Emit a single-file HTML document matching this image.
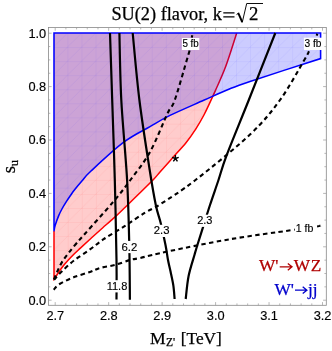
<!DOCTYPE html><html><head><meta charset="utf-8"><style>html,body{margin:0;padding:0;background:#fff}svg{display:block;will-change:transform}</style></head><body><svg width="332" height="351" viewBox="0 0 332 351">
<defs><pattern id="meshr" width="14.05" height="14.05" patternUnits="userSpaceOnUse" x="53.7" y="11.3"><path d="M0,0.3H14.05M0.3,0V14.05M0,14.05L14.05,0" stroke="#f00" stroke-opacity="0.07" stroke-width="0.7" fill="none"/></pattern><pattern id="meshb" width="14.05" height="14.05" patternUnits="userSpaceOnUse" x="53.4" y="33.1"><path d="M0,0.3H14.05M0.3,0V14.05M0,14.05L14.05,0" stroke="#00f" stroke-opacity="0.07" stroke-width="0.7" fill="none"/></pattern>
<mask id="mro" maskUnits="userSpaceOnUse" x="0" y="0" width="332" height="351"><path d="M54.00,279.00 C54.53,278.25 55.87,276.42 57.20,274.50 C58.53,272.58 60.18,269.87 62.00,267.50 C63.82,265.13 66.08,262.55 68.10,260.30 C70.12,258.05 72.10,255.98 74.10,254.00 C76.10,252.02 77.58,250.73 80.10,248.40 C82.62,246.07 85.88,243.03 89.20,240.00 C92.52,236.97 95.68,234.05 100.00,230.20 C104.32,226.35 110.93,220.68 115.10,216.90 C119.27,213.12 121.48,210.90 125.00,207.50 C128.52,204.10 131.53,201.08 136.20,196.50 C140.87,191.92 149.03,184.08 153.00,180.00 C156.97,175.92 156.80,175.62 160.00,172.00 C163.20,168.38 167.83,163.22 172.20,158.30 C176.57,153.38 182.37,147.23 186.20,142.50 C190.03,137.77 192.20,134.57 195.20,129.90 C198.20,125.23 200.70,121.35 204.20,114.50 C207.70,107.65 212.83,96.25 216.20,88.80 C219.57,81.35 221.98,75.98 224.40,69.80 C226.82,63.62 228.65,57.83 230.70,51.70 C232.75,45.57 235.70,36.12 236.70,33.00 L236.7,33 L54,33 Z" fill="#fff"/><path d="M54.00,231.30 C54.18,230.35 54.32,228.22 55.10,225.60 C55.88,222.98 57.52,218.45 58.70,215.60 C59.88,212.75 60.90,210.87 62.20,208.50 C63.50,206.13 65.07,203.65 66.50,201.40 C67.93,199.15 69.48,196.90 70.80,195.00 C72.12,193.10 72.52,192.37 74.40,190.00 C76.28,187.63 79.33,183.97 82.10,180.80 C84.87,177.63 84.07,177.43 91.00,171.00 C97.93,164.57 113.87,149.60 123.70,142.20 C133.53,134.80 142.28,131.07 150.00,126.60 C157.72,122.13 161.05,119.78 170.00,115.40 C178.95,111.02 194.20,104.53 203.70,100.30 C213.20,96.07 219.28,93.15 227.00,90.00 C234.72,86.85 234.40,86.63 250.00,81.40 C265.60,76.17 308.83,62.40 320.60,58.60 L320.6,33 L54,33 Z" fill="#000"/></mask></defs>
<rect width="332" height="351" fill="#fff"/>
<path d="M54.00,279.00 C54.53,278.25 55.87,276.42 57.20,274.50 C58.53,272.58 60.18,269.87 62.00,267.50 C63.82,265.13 66.08,262.55 68.10,260.30 C70.12,258.05 72.10,255.98 74.10,254.00 C76.10,252.02 77.58,250.73 80.10,248.40 C82.62,246.07 85.88,243.03 89.20,240.00 C92.52,236.97 95.68,234.05 100.00,230.20 C104.32,226.35 110.93,220.68 115.10,216.90 C119.27,213.12 121.48,210.90 125.00,207.50 C128.52,204.10 131.53,201.08 136.20,196.50 C140.87,191.92 149.03,184.08 153.00,180.00 C156.97,175.92 156.80,175.62 160.00,172.00 C163.20,168.38 167.83,163.22 172.20,158.30 C176.57,153.38 182.37,147.23 186.20,142.50 C190.03,137.77 192.20,134.57 195.20,129.90 C198.20,125.23 200.70,121.35 204.20,114.50 C207.70,107.65 212.83,96.25 216.20,88.80 C219.57,81.35 221.98,75.98 224.40,69.80 C226.82,63.62 228.65,57.83 230.70,51.70 C232.75,45.57 235.70,36.12 236.70,33.00 L236.7,33 L54,33 Z" fill="#ff0000" fill-opacity="0.2"/>
<path d="M54.00,279.00 C54.53,278.25 55.87,276.42 57.20,274.50 C58.53,272.58 60.18,269.87 62.00,267.50 C63.82,265.13 66.08,262.55 68.10,260.30 C70.12,258.05 72.10,255.98 74.10,254.00 C76.10,252.02 77.58,250.73 80.10,248.40 C82.62,246.07 85.88,243.03 89.20,240.00 C92.52,236.97 95.68,234.05 100.00,230.20 C104.32,226.35 110.93,220.68 115.10,216.90 C119.27,213.12 121.48,210.90 125.00,207.50 C128.52,204.10 131.53,201.08 136.20,196.50 C140.87,191.92 149.03,184.08 153.00,180.00 C156.97,175.92 156.80,175.62 160.00,172.00 C163.20,168.38 167.83,163.22 172.20,158.30 C176.57,153.38 182.37,147.23 186.20,142.50 C190.03,137.77 192.20,134.57 195.20,129.90 C198.20,125.23 200.70,121.35 204.20,114.50 C207.70,107.65 212.83,96.25 216.20,88.80 C219.57,81.35 221.98,75.98 224.40,69.80 C226.82,63.62 228.65,57.83 230.70,51.70 C232.75,45.57 235.70,36.12 236.70,33.00 L236.7,33 L54,33 Z" fill="url(#meshr)" mask="url(#mro)"/>
<path d="M54,231 L54.00,279.00 C54.53,278.25 55.87,276.42 57.20,274.50 C58.53,272.58 60.18,269.87 62.00,267.50 C63.82,265.13 66.08,262.55 68.10,260.30 C70.12,258.05 72.10,255.98 74.10,254.00 C76.10,252.02 77.58,250.73 80.10,248.40 C82.62,246.07 85.88,243.03 89.20,240.00 C92.52,236.97 95.68,234.05 100.00,230.20 C104.32,226.35 110.93,220.68 115.10,216.90 C119.27,213.12 121.48,210.90 125.00,207.50 C128.52,204.10 131.53,201.08 136.20,196.50 C140.87,191.92 149.03,184.08 153.00,180.00 C156.97,175.92 156.80,175.62 160.00,172.00 C163.20,168.38 167.83,163.22 172.20,158.30 C176.57,153.38 182.37,147.23 186.20,142.50 C190.03,137.77 192.20,134.57 195.20,129.90 C198.20,125.23 200.70,121.35 204.20,114.50 C207.70,107.65 212.83,96.25 216.20,88.80 C219.57,81.35 221.98,75.98 224.40,69.80 C226.82,63.62 228.65,57.83 230.70,51.70 C232.75,45.57 235.70,36.12 236.70,33.00" fill="none" stroke="#f00" stroke-width="1.5" stroke-linejoin="miter"/>
<path d="M54.00,231.30 C54.18,230.35 54.32,228.22 55.10,225.60 C55.88,222.98 57.52,218.45 58.70,215.60 C59.88,212.75 60.90,210.87 62.20,208.50 C63.50,206.13 65.07,203.65 66.50,201.40 C67.93,199.15 69.48,196.90 70.80,195.00 C72.12,193.10 72.52,192.37 74.40,190.00 C76.28,187.63 79.33,183.97 82.10,180.80 C84.87,177.63 84.07,177.43 91.00,171.00 C97.93,164.57 113.87,149.60 123.70,142.20 C133.53,134.80 142.28,131.07 150.00,126.60 C157.72,122.13 161.05,119.78 170.00,115.40 C178.95,111.02 194.20,104.53 203.70,100.30 C213.20,96.07 219.28,93.15 227.00,90.00 C234.72,86.85 234.40,86.63 250.00,81.40 C265.60,76.17 308.83,62.40 320.60,58.60 L320.6,33 L54,33 Z" fill="#0000ff" fill-opacity="0.2"/>
<path d="M54.00,231.30 C54.18,230.35 54.32,228.22 55.10,225.60 C55.88,222.98 57.52,218.45 58.70,215.60 C59.88,212.75 60.90,210.87 62.20,208.50 C63.50,206.13 65.07,203.65 66.50,201.40 C67.93,199.15 69.48,196.90 70.80,195.00 C72.12,193.10 72.52,192.37 74.40,190.00 C76.28,187.63 79.33,183.97 82.10,180.80 C84.87,177.63 84.07,177.43 91.00,171.00 C97.93,164.57 113.87,149.60 123.70,142.20 C133.53,134.80 142.28,131.07 150.00,126.60 C157.72,122.13 161.05,119.78 170.00,115.40 C178.95,111.02 194.20,104.53 203.70,100.30 C213.20,96.07 219.28,93.15 227.00,90.00 C234.72,86.85 234.40,86.63 250.00,81.40 C265.60,76.17 308.83,62.40 320.60,58.60 L320.6,33 L54,33 Z" fill="url(#meshb)"/>
<path d="M54.00,231.30 C54.18,230.35 54.32,228.22 55.10,225.60 C55.88,222.98 57.52,218.45 58.70,215.60 C59.88,212.75 60.90,210.87 62.20,208.50 C63.50,206.13 65.07,203.65 66.50,201.40 C67.93,199.15 69.48,196.90 70.80,195.00 C72.12,193.10 72.52,192.37 74.40,190.00 C76.28,187.63 79.33,183.97 82.10,180.80 C84.87,177.63 84.07,177.43 91.00,171.00 C97.93,164.57 113.87,149.60 123.70,142.20 C133.53,134.80 142.28,131.07 150.00,126.60 C157.72,122.13 161.05,119.78 170.00,115.40 C178.95,111.02 194.20,104.53 203.70,100.30 C213.20,96.07 219.28,93.15 227.00,90.00 C234.72,86.85 234.40,86.63 250.00,81.40 C265.60,76.17 308.83,62.40 320.60,58.60 L320.6,33 L54,33 Z" fill="none" stroke="#00f" stroke-width="1.55" stroke-linejoin="miter"/>
<path d="M54.00,279.50 C54.53,278.20 55.87,274.60 57.20,271.70 C58.53,268.80 60.18,265.12 62.00,262.10 C63.82,259.08 65.78,256.62 68.10,253.60 C70.42,250.58 73.08,247.32 75.90,244.00 C78.72,240.68 78.77,240.73 85.00,233.70 C91.23,226.67 105.73,210.75 113.30,201.80 C120.87,192.85 124.28,188.30 130.40,180.00 C136.52,171.70 143.80,163.13 150.00,152.00 C156.20,140.87 163.47,121.87 167.60,113.20 C171.73,104.53 171.60,108.87 174.80,100.00 C178.00,91.13 184.32,68.30 186.80,60.00 C189.28,51.70 189.22,51.83 189.70,50.20" fill="none" stroke="#000" stroke-width="2.1" stroke-dasharray="4.4,3.4"/>
<path d="M54.00,279.80 C55.33,278.37 58.65,274.43 62.00,271.20 C65.35,267.97 69.43,264.03 74.10,260.40 C78.77,256.77 85.07,252.93 90.00,249.40 C94.93,245.87 97.87,243.12 103.70,239.20 C109.53,235.28 118.08,230.35 125.00,225.90 C131.92,221.45 139.37,216.08 145.20,212.50 C151.03,208.92 151.62,209.82 160.00,204.40 C168.38,198.98 180.50,191.65 195.50,180.00 C210.50,168.35 235.92,147.83 250.00,134.50 C264.08,121.17 270.95,112.42 280.00,100.00 C289.05,87.58 299.47,68.13 304.30,60.00 C309.13,51.87 308.22,52.67 309.00,51.20" fill="none" stroke="#000" stroke-width="2.1" stroke-dasharray="4.4,3.4"/>
<path d="M53.70,289.80 C54.68,288.83 56.20,286.12 59.60,284.00 C63.00,281.88 69.03,279.10 74.10,277.10 C79.17,275.10 85.68,273.52 90.00,272.00 C94.32,270.48 95.88,269.17 100.00,268.00 C104.12,266.83 109.70,266.33 114.70,265.00 C119.70,263.67 125.78,261.17 130.00,260.00 C134.22,258.83 133.33,259.50 140.00,258.00 C146.67,256.50 155.00,254.13 170.00,251.00 C185.00,247.87 209.77,242.67 230.00,239.20 C250.23,235.73 276.97,232.32 291.40,230.20 C305.83,228.08 311.77,227.27 316.60,226.50 C321.43,225.73 319.77,225.75 320.40,225.60" fill="none" stroke="#000" stroke-width="2.1" stroke-dasharray="4.4,3.4"/>
<path d="M191.8,37.6L192.3,35.2M316.6,35.6L317.4,33.8" stroke="#000" stroke-width="2.1" fill="none"/>
<path d="M110.00,33.00 C110.37,44.17 111.40,75.50 112.20,100.00 C113.00,124.50 114.08,153.33 114.80,180.00 C115.52,206.67 116.22,240.10 116.50,260.00 C116.78,279.90 116.50,292.83 116.50,299.40" fill="none" stroke="#000" stroke-width="2.2"/>
<path d="M119.40,33.00 C119.72,44.17 120.02,75.50 121.30,100.00 C122.58,124.50 125.77,155.67 127.10,180.00 C128.43,204.33 128.83,226.05 129.30,246.00 C129.77,265.95 129.80,290.75 129.90,299.70" fill="none" stroke="#000" stroke-width="2.2"/>
<path d="M132.70,33.00 C133.82,44.17 136.57,77.17 139.40,100.00 C142.23,122.83 146.97,152.50 149.70,170.00 C152.43,187.50 153.97,196.17 155.80,205.00 C157.63,213.83 159.08,216.33 160.70,223.00 C162.32,229.67 164.28,238.83 165.50,245.00 C166.72,251.17 167.17,255.62 168.00,260.00 C168.83,264.38 169.60,267.00 170.50,271.30 C171.40,275.60 172.72,281.18 173.40,285.80 C174.08,290.42 174.40,296.80 174.60,299.00" fill="none" stroke="#000" stroke-width="2.2"/>
<path d="M185.70,299.00 C186.18,295.17 187.12,283.42 188.60,276.00 C190.08,268.58 193.13,259.67 194.60,254.50 C196.07,249.33 196.03,249.43 197.40,245.00 C198.77,240.57 200.70,234.57 202.80,227.90 C204.90,221.23 207.38,212.98 210.00,205.00 C212.62,197.02 215.73,188.27 218.50,180.00 C221.27,171.73 221.55,168.73 226.60,155.40 C231.65,142.07 240.68,120.40 248.80,100.00 C256.92,79.60 270.88,44.17 275.30,33.00" fill="none" stroke="#000" stroke-width="2.2"/>
<rect x="48.4" y="27.5" width="277.9" height="277.8" fill="none" stroke="#888" stroke-width="0.8"/>
<path d="M55.20,305.30v-3.20 M55.20,27.50v3.20 M65.89,305.30v-1.90 M65.89,27.50v1.90 M76.58,305.30v-1.90 M76.58,27.50v1.90 M87.28,305.30v-1.90 M87.28,27.50v1.90 M97.97,305.30v-1.90 M97.97,27.50v1.90 M108.66,305.30v-3.20 M108.66,27.50v3.20 M119.35,305.30v-1.90 M119.35,27.50v1.90 M130.04,305.30v-1.90 M130.04,27.50v1.90 M140.74,305.30v-1.90 M140.74,27.50v1.90 M151.43,305.30v-1.90 M151.43,27.50v1.90 M162.12,305.30v-3.20 M162.12,27.50v3.20 M172.81,305.30v-1.90 M172.81,27.50v1.90 M183.50,305.30v-1.90 M183.50,27.50v1.90 M194.20,305.30v-1.90 M194.20,27.50v1.90 M204.89,305.30v-1.90 M204.89,27.50v1.90 M215.58,305.30v-3.20 M215.58,27.50v3.20 M226.27,305.30v-1.90 M226.27,27.50v1.90 M236.96,305.30v-1.90 M236.96,27.50v1.90 M247.66,305.30v-1.90 M247.66,27.50v1.90 M258.35,305.30v-1.90 M258.35,27.50v1.90 M269.04,305.30v-3.20 M269.04,27.50v3.20 M279.73,305.30v-1.90 M279.73,27.50v1.90 M290.42,305.30v-1.90 M290.42,27.50v1.90 M301.12,305.30v-1.90 M301.12,27.50v1.90 M311.81,305.30v-1.90 M311.81,27.50v1.90 M322.50,305.30v-3.20 M322.50,27.50v3.20 M48.40,300.20h3.20 M326.30,300.20h-3.20 M48.40,286.85h1.90 M326.30,286.85h-1.90 M48.40,273.50h1.90 M326.30,273.50h-1.90 M48.40,260.15h1.90 M326.30,260.15h-1.90 M48.40,246.80h3.20 M326.30,246.80h-3.20 M48.40,233.45h1.90 M326.30,233.45h-1.90 M48.40,220.10h1.90 M326.30,220.10h-1.90 M48.40,206.75h1.90 M326.30,206.75h-1.90 M48.40,193.40h3.20 M326.30,193.40h-3.20 M48.40,180.05h1.90 M326.30,180.05h-1.90 M48.40,166.70h1.90 M326.30,166.70h-1.90 M48.40,153.35h1.90 M326.30,153.35h-1.90 M48.40,140.00h3.20 M326.30,140.00h-3.20 M48.40,126.65h1.90 M326.30,126.65h-1.90 M48.40,113.30h1.90 M326.30,113.30h-1.90 M48.40,99.95h1.90 M326.30,99.95h-1.90 M48.40,86.60h3.20 M326.30,86.60h-3.20 M48.40,73.25h1.90 M326.30,73.25h-1.90 M48.40,59.90h1.90 M326.30,59.90h-1.90 M48.40,46.55h1.90 M326.30,46.55h-1.90 M48.40,33.20h3.20 M326.30,33.20h-3.20" stroke="#999" stroke-width="0.7" fill="none"/>
<g font-family="Liberation Sans, sans-serif" font-size="12.8" fill="#000" stroke="#000" stroke-width="0.15">
<text x="55.3" y="320" text-anchor="middle">2.7</text>
<text x="108.8" y="320" text-anchor="middle">2.8</text>
<text x="162.2" y="320" text-anchor="middle">2.9</text>
<text x="215.7" y="320" text-anchor="middle">3.0</text>
<text x="269.1" y="320" text-anchor="middle">3.1</text>
<text x="322.6" y="320" text-anchor="middle">3.2</text>
<text x="46.2" y="304.6" text-anchor="end">0.0</text>
<text x="46.2" y="251.2" text-anchor="end">0.2</text>
<text x="46.2" y="197.8" text-anchor="end">0.4</text>
<text x="46.2" y="144.4" text-anchor="end">0.6</text>
<text x="46.2" y="91.0" text-anchor="end">0.8</text>
<text x="46.2" y="37.6" text-anchor="end">1.0</text>
</g>
<rect x="181.9" y="38.0" width="17.4" height="12.0" fill="#fff"/>
<text x="182.40" y="47.30" textLength="16.4" lengthAdjust="spacingAndGlyphs" font-family="Liberation Sans, sans-serif" font-size="11.0" stroke="#000" stroke-width="0.15">5 fb</text>
<rect x="303.9" y="37.7" width="18.4" height="12.3" fill="#fff"/>
<text x="304.40" y="47.30" textLength="17.0" lengthAdjust="spacingAndGlyphs" font-family="Liberation Sans, sans-serif" font-size="11.0" stroke="#000" stroke-width="0.15">3 fb</text>
<rect x="294.8" y="222.6" width="19.5" height="11.5" fill="#fff"/>
<text x="295.65" y="232.20" textLength="17.7" lengthAdjust="spacingAndGlyphs" font-family="Liberation Sans, sans-serif" font-size="11.0" stroke="#000" stroke-width="0.15">1 fb</text>
<rect x="106.0" y="280.2" width="21.9" height="12.2" fill="#fff"/>
<text x="106.65" y="289.80" textLength="20.7" lengthAdjust="spacingAndGlyphs" font-family="Liberation Sans, sans-serif" font-size="11.0" stroke="#000" stroke-width="0.15">11.8</text>
<rect x="120.9" y="240.9" width="17.0" height="12.2" fill="#fff"/>
<text x="121.50" y="250.50" textLength="15.8" lengthAdjust="spacingAndGlyphs" font-family="Liberation Sans, sans-serif" font-size="11.0" stroke="#000" stroke-width="0.15">6.2</text>
<rect x="153.2" y="224.8" width="16.9" height="12.2" fill="#fff"/>
<text x="153.75" y="234.40" textLength="15.7" lengthAdjust="spacingAndGlyphs" font-family="Liberation Sans, sans-serif" font-size="11.0" stroke="#000" stroke-width="0.15">2.3</text>
<rect x="196.6" y="214.7" width="16.5" height="12.2" fill="#fff"/>
<text x="197.15" y="224.30" textLength="15.3" lengthAdjust="spacingAndGlyphs" font-family="Liberation Sans, sans-serif" font-size="11.0" stroke="#000" stroke-width="0.15">2.3</text>
<path d="M175.4,158.5 L175.40,155.00 M175.4,158.5 L178.73,157.42 M175.4,158.5 L177.46,161.33 M175.4,158.5 L173.34,161.33 M175.4,158.5 L172.07,157.42" stroke="#000" stroke-width="1.4" fill="none"/>
<g font-family="Liberation Serif, serif" stroke-width="0.25">
<text x="111.4" y="20.3" font-size="18.3" stroke="#000">SU(2) flavor, k</text>
<path d="M223.3,12.9H234.5M223.3,16.9H234.5" fill="none" stroke="#000" stroke-width="1.25"/>
<path d="M236.5,14.6L238.5,13.2" fill="none" stroke="#000" stroke-width="0.9"/>
<path d="M238.2,12.9L242.2,22.0" fill="none" stroke="#000" stroke-width="1.9"/>
<path d="M242.2,22.6L246.7,3.5H263" fill="none" stroke="#000" stroke-width="0.95" stroke-linejoin="miter"/>
<text x="249" y="20.3" font-size="18.8" stroke="#000">2</text>
<text x="259.0" y="271.1" font-size="17.3" fill="#b00000" stroke="#b00000">W'</text>
<text x="293.8" y="271.1" font-size="17.3" letter-spacing="0.7" fill="#b00000" stroke="#b00000">WZ</text>
<path d="M279.7,266.8H291.7M287.8,263.4L292,266.8L287.8,270.2" fill="none" stroke="#b00000" stroke-width="1.3"/>
<text x="274.4" y="294.5" font-size="17.3" fill="#0000cc" stroke="#0000cc">W'</text>
<text x="307.9" y="294.5" font-size="17.3" fill="#0000cc" stroke="#0000cc">jj</text>
<path d="M295,290.2H306.6M302.7,286.8L306.9,290.2L302.7,293.6" fill="none" stroke="#0000cc" stroke-width="1.3"/>
<text x="150" y="343.8" font-size="17.6" stroke="#000">M</text>
<text x="166" y="346.3" font-size="11.6" stroke="#000">Z'</text>
<text x="180.8" y="343.8" font-size="17.3" textLength="41" lengthAdjust="spacingAndGlyphs" stroke="#000">[TeV]</text>
<text transform="translate(15.1,166.6) rotate(-90)" font-size="18.5" text-anchor="middle" stroke="#000">s<tspan font-size="12.6" dy="2.9">u</tspan></text>
</g>
</svg></body></html>
